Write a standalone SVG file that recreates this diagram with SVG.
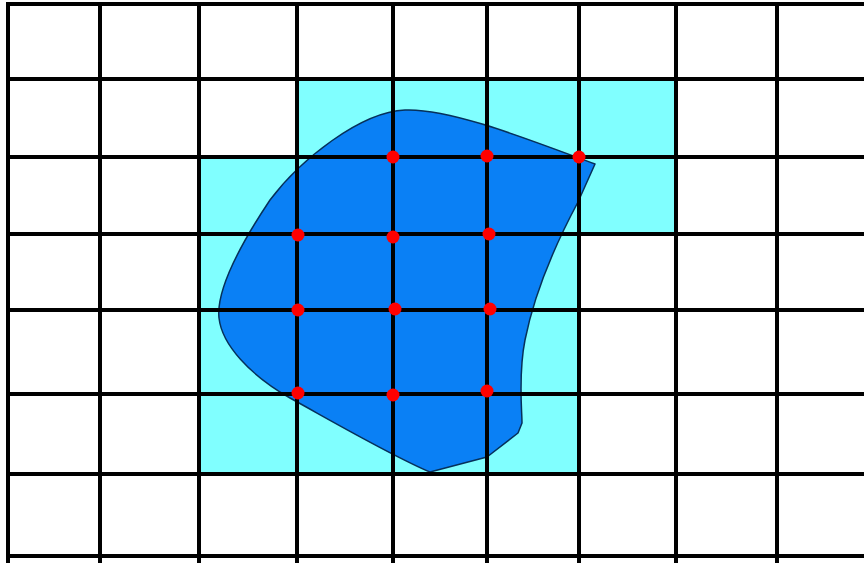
<svg xmlns="http://www.w3.org/2000/svg" width="864" height="563" viewBox="0 0 864 563">
<style>
.cyan{fill:#80FFFF;stroke:none}
.blob{fill:#0A80F5;stroke:#06305A;stroke-width:1.5;stroke-linejoin:round}
.grid line{stroke:#000;stroke-width:4}
.dot{fill:#FF0000}
</style>
<rect width="864" height="563" fill="#FFFFFF"/>
<g id="cyan-region">
<path class="cyan" d="M297,79 H676 V234 H579 V474 H199 V157 H297 Z"/>
</g>
<g id="blob">
<path class="blob" d="M430,472 C390,455 330,420 290,398 C250,375 222,345 219,318 C216,290 240,245 270,200 C300,160 360,112 405,110 C450,108 530,140 595,164 L578,202 C555,245 535,290 525,340 C518,375 522,410 522,423 L518,433 L487,457 Z"/>
</g>
<g id="grid" class="grid">
<line x1="8" y1="2" x2="8" y2="563"/>
<line x1="100" y1="2" x2="100" y2="563"/>
<line x1="199" y1="2" x2="199" y2="563"/>
<line x1="297" y1="2" x2="297" y2="563"/>
<line x1="393" y1="2" x2="393" y2="563"/>
<line x1="487" y1="2" x2="487" y2="563"/>
<line x1="579" y1="2" x2="579" y2="563"/>
<line x1="676" y1="2" x2="676" y2="563"/>
<line x1="777" y1="2" x2="777" y2="563"/>
<line x1="6" y1="4" x2="864" y2="4"/>
<line x1="6" y1="79" x2="864" y2="79"/>
<line x1="6" y1="157" x2="864" y2="157"/>
<line x1="6" y1="234" x2="864" y2="234"/>
<line x1="6" y1="310" x2="864" y2="310"/>
<line x1="6" y1="394" x2="864" y2="394"/>
<line x1="6" y1="474" x2="864" y2="474"/>
<line x1="6" y1="556" x2="864" y2="556"/>
</g>
<g id="points">
<circle class="dot" cx="393" cy="157" r="6.5"/>
<circle class="dot" cx="487" cy="156" r="6.5"/>
<circle class="dot" cx="579" cy="157" r="6.5"/>
<circle class="dot" cx="298" cy="235" r="6.5"/>
<circle class="dot" cx="393" cy="237" r="6.5"/>
<circle class="dot" cx="489" cy="234" r="6.5"/>
<circle class="dot" cx="298" cy="310" r="6.5"/>
<circle class="dot" cx="395" cy="309" r="6.5"/>
<circle class="dot" cx="490" cy="309" r="6.5"/>
<circle class="dot" cx="298" cy="393" r="6.5"/>
<circle class="dot" cx="393" cy="395" r="6.5"/>
<circle class="dot" cx="487" cy="391" r="6.5"/>
</g>
</svg>
